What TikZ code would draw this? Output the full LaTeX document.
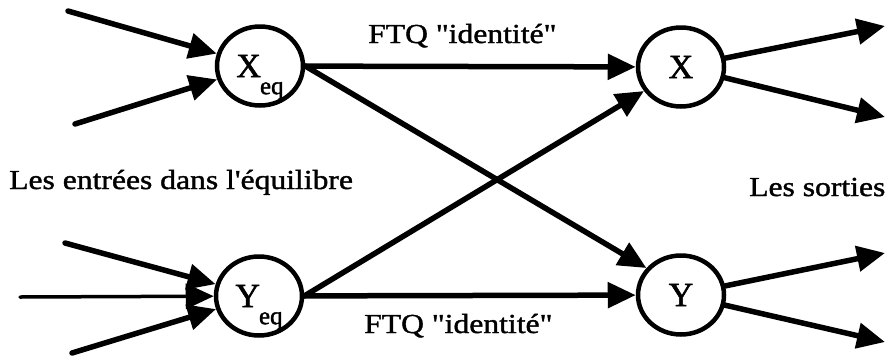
\documentclass[tikz,border=0pt]{standalone}
\usepackage{fontspec}
\setmainfont{Liberation Serif}
\newfontfamily\labfont[FakeStretch=1.15,FakeBold=1.4,Ligatures=TeXOff]{Liberation Serif}
\newfontfamily\nfont[FakeBold=1.6]{Liberation Serif}
\usetikzlibrary{arrows.meta,shapes.geometric}
\begin{document}
\begin{tikzpicture}[x=1pt,y=-1pt,
  nd/.style={draw, ellipse, line width=4.5pt, minimum width=86pt, minimum height=79pt,
    inner sep=0pt, font=\nfont\fontsize{34}{34}\selectfont},
  ar/.style={line width=5.5pt, line cap=round, -{Triangle[length=28pt,width=25pt]}},
  lab/.style={font=\labfont\fontsize{27.5}{27.5}\selectfont, inner sep=0pt}]
\useasboundingbox (0,0) rectangle (887,357);
\newcommand{\subeq}{\raisebox{-17pt}[0pt][0pt]{\fontsize{25}{25}\selectfont eq}}
% nodes
\node[nd] (Xeq) at (260,66) {X\kern-1pt\subeq};
\node[nd] (Yeq) at (259,296) {Y\kern-1pt\subeq};
\node[nd] (X) at (681,67) {X};
\node[nd] (Y) at (681,295) {Y};
% free ends
\coordinate (i1) at (68,11);
\coordinate (i2) at (75,124);
\coordinate (i3) at (65,243);
\coordinate (i4) at (20,297);
\coordinate (i5) at (72,353);
\coordinate (o1) at (885,26);
\coordinate (o2) at (885,117);
\coordinate (o3) at (885,253);
\coordinate (o4) at (885,342);
% inputs
\draw[ar] (i1) -- (Xeq);
\draw[ar] (i2) -- (Xeq);
\draw[ar] (i3) -- (Yeq);
\draw[ar, line width=3.5pt] (i4) -- (Yeq);
\draw[ar] (i5) -- (Yeq);
% middle
\draw[ar] (Xeq) -- (X);
\draw[ar] (Xeq.east) -- (Y.142);
\draw[ar] (Yeq.east) -- (X.213);
\draw[ar] (Yeq) -- (Y);
% outputs
\draw[ar] (X) -- (o1);
\draw[ar] (X) -- (o2);
\draw[ar] (Y) -- (o3);
\draw[ar] (Y) -- (o4);
% labels
\node[lab, anchor=base west] (t1) at (368,43) {FTQ "identité"};
\node[lab, anchor=base west] (t2) at (364,333) {FTQ "identité"};
\node[lab, anchor=base west] (t3) at (9,189) {Les entrées dans l'équilibre};
\node[lab, anchor=base west] (t4) at (749,196) {Les sorties};
\end{tikzpicture}
\end{document}
